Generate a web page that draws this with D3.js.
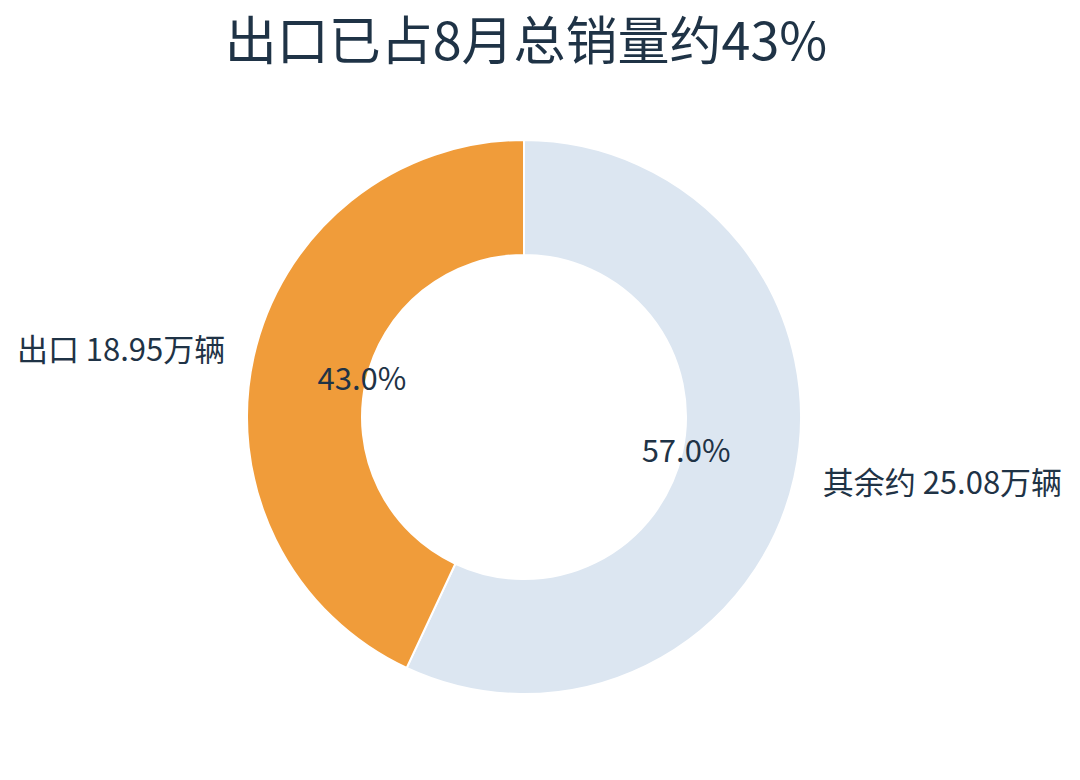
<!DOCTYPE html>
<html>
<head>
<meta charset="utf-8">
<script src="https://cdn.jsdelivr.net/npm/d3@7"></script>
<style>
  body { margin: 0; background: #fff; }
  text { font-family: "Noto Sans CJK SC", "Noto Sans", sans-serif; fill: #1f3346; }
</style>
</head>
<body>
<div id="chart"></div>
<script>
// Chart data
const categories = ["其余约", "出口"];
const values = [25.08, 18.95];
const sliceColors = ["#dce6f1", "#f09c3a"];
const title = "出口已占8月总销量约43%";

const svgWidth = 1080;
const svgHeight = 780;
const cx = 524, cy = 417;
const outerR = 277, innerR = 162;

const svg = d3.select("#chart")
    .append("svg")
    .attr("width", svgWidth)
    .attr("height", svgHeight);

// Title
svg.append("text")
    .attr("x", 526)
    .attr("y", 60)
    .attr("text-anchor", "middle")
    .attr("font-size", "52px")
    .text(title);

const pie = d3.pie().sort(null).value(d => d.value);
const arcs = pie(categories.map((c, i) => ({ name: c, value: values[i], color: sliceColors[i] })));
const total = d3.sum(values);

const arc = d3.arc().innerRadius(innerR).outerRadius(outerR);
const pctArc = d3.arc().innerRadius(166).outerRadius(166);
const outArc = d3.arc().innerRadius(306).outerRadius(306);

const g = svg.append("g")
    .attr("transform", `translate(${cx}, ${cy})`);

g.selectAll(".slice")
    .data(arcs)
    .enter()
    .append("path")
    .attr("class", "slice")
    .attr("d", arc)
    .attr("fill", d => d.data.color)
    .attr("stroke", "#fff")
    .attr("stroke-width", 2);

// Percent labels
g.selectAll(".pct")
    .data(arcs)
    .enter()
    .append("text")
    .attr("class", "pct")
    .attr("transform", d => `translate(${pctArc.centroid(d)})`)
    .attr("text-anchor", "middle")
    .attr("dy", "0.3em")
    .attr("font-size", "31px")
    .text(d => (d.data.value / total * 100).toFixed(1) + "%");

// Outside labels
g.selectAll(".lbl")
    .data(arcs)
    .enter()
    .append("text")
    .attr("class", "lbl")
    .attr("transform", d => `translate(${outArc.centroid(d)})`)
    .attr("text-anchor", d => (d.startAngle + d.endAngle) / 2 > Math.PI ? "end" : "start")
    .attr("dy", "0.35em")
    .attr("font-size", "31px")
    .text(d => `${d.data.name} ${d.data.value.toFixed(2)}万辆`);
</script>
</body>
</html>
